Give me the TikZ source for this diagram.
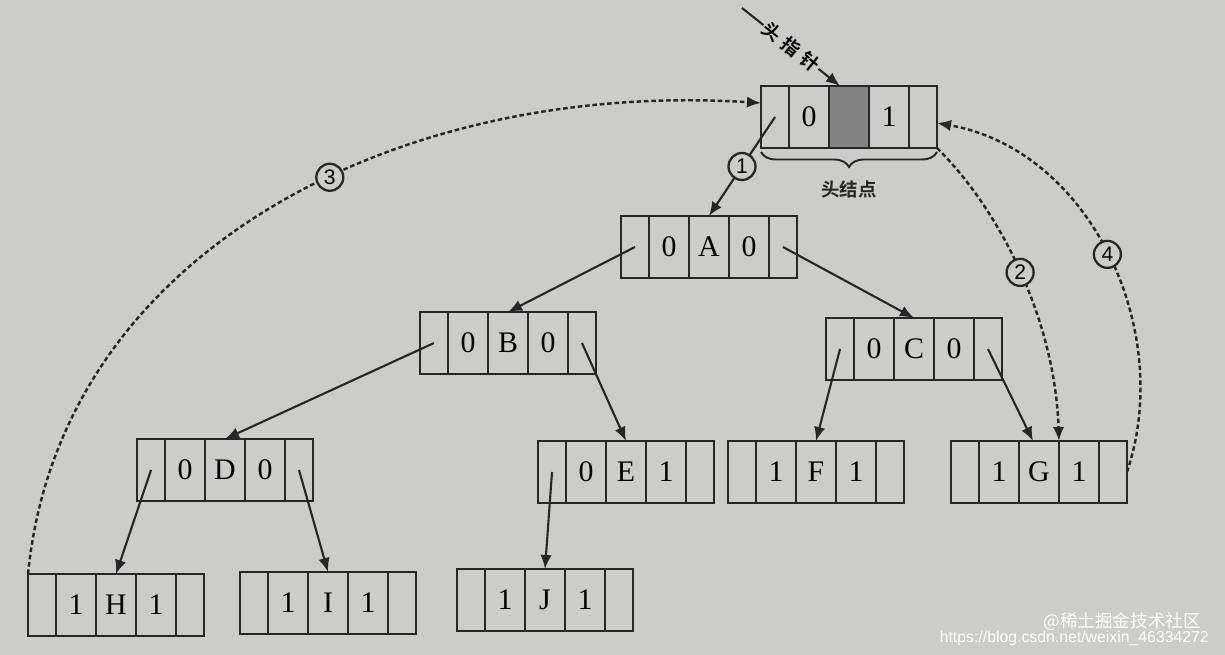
\documentclass[tikz,border=0pt]{standalone}
\usepackage{fontspec}
\setmainfont{Liberation Serif}
\setsansfont{Liberation Sans}
\newfontfamily\cjk{Noto Sans CJK SC}[BoldFont={Noto Sans CJK SC Bold}]
\usepackage{tikz}
\usetikzlibrary{arrows.meta,positioning,decorations.pathreplacing}

\definecolor{paper}{RGB}{204,204,202}
\definecolor{ink}{RGB}{38,38,38}
\definecolor{shade}{RGB}{132,132,132}

% one list node: #1 extra style for the data slot, #2 name, #3 position, #4 ltag, #5 data, #6 rtag
\newcommand{\listnode}[6][]{%
  \node[dataslot,#1] (#2-d) at #3 {#5};
  \node[tagslot,left=0pt of #2-d] (#2-lt) {#4};
  \node[ptrslot,left=0pt of #2-lt] (#2-l) {};
  \node[tagslot,right=0pt of #2-d] (#2-rt) {#6};
  \node[ptrslot,right=0pt of #2-rt] (#2-r) {};
}

\begin{document}
\begin{tikzpicture}[x=0.02cm,y=-0.02cm,
  slot/.style={draw=ink,line width=1.5pt,fill=paper,minimum height=1.24cm,inner sep=0pt,outer sep=0pt,
    font=\fontsize{17}{20}\selectfont},
  ptrslot/.style={slot,minimum width=0.56cm},
  tagslot/.style={slot,minimum width=0.8cm},
  dataslot/.style={tagslot},
  link/.style={draw=ink,line width=1.2pt,-{Latex[length=8pt,width=6.5pt]}},
  thread/.style={draw=ink,line width=1.4pt,dash pattern=on 2.6pt off 1.6pt,-{Latex[length=8pt,width=6.5pt]}},
  numlabel/.style={circle,solid,draw=ink,line width=1.3pt,fill=paper,minimum size=0.54cm,inner sep=0pt,
    font=\sffamily\fontsize{12}{12}\selectfont},
  caption/.style={fill=paper,inner sep=1pt,font=\cjk\bfseries\fontsize{10.5}{12}\selectfont},
  wmark/.style={text=white,anchor=east}]

    \fill[paper] (0,0) rectangle (1225,655);
    \useasboundingbox (0,0) rectangle (1225,655);

    \listnode[fill=shade]{head}{(849,117)}{0}{}{1}
    \listnode{A}{(709,247)}{0}{A}{0}
    \listnode{B}{(508,343)}{0}{B}{0}
    \listnode{C}{(914,349)}{0}{C}{0}
    \listnode{D}{(225,470)}{0}{D}{0}
    \listnode{E}{(626,472)}{0}{E}{1}
    \listnode{F}{(816,472)}{1}{F}{1}
    \listnode{G}{(1039,472)}{1}{G}{1}
    \listnode{H}{(116,605)}{1}{H}{1}
    \listnode{I}{(328,603)}{1}{I}{1}
    \listnode{J}{(545,600)}{1}{J}{1}

    \coordinate (hp) at (742,8);
    \draw[link] (hp) -- node[sloped,caption] (hplbl) {头\hspace{0.3em}指\hspace{0.3em}针} ([xshift=-0.18cm]head-d.north);
    \draw[ink,line width=1.1pt,decorate,decoration={brace,mirror,amplitude=0.3cm}]
        ([yshift=-0.08cm]head-l.south west) -- ([yshift=-0.08cm]head-r.south east)
        node[midway,below=0.52cm,caption] (hnlbl) {头结点};

    \draw[link] (head-l.center) -- node[numlabel] (n1) {1} (A-d.north);
    \draw[link] (A-l.center) -- (B-d.north);
    \draw[link] (A-r.center) -- (C-d.north);
    \draw[link] (B-l.center) -- (D-d.north);
    \draw[link] (B-r.center) -- (E-d.north);
    \draw[link] (C-l.center) -- (F-d.north);
    \draw[link] (C-r.center) -- ([xshift=-0.12cm]G-d.north);
    \draw[link] (D-l.center) -- (H-d.north);
    \draw[link] (D-r.center) -- (I-d.north);
    \draw[link] (E-l.center) -- (J-d.north);

    \draw[thread] (H-l.north west) .. controls (60,250) and (400,80) ..
        node[pos=0.57,numlabel] (n3) {3} ([yshift=0.28cm]head-l.west);
    \draw[thread] (head-r.south east) .. controls (1000,210) and (1055,320) ..
        node[pos=0.5,numlabel] (n2) {2} (G-d.north east);
    \draw[thread] (G-r.east) .. controls (1175,330) and (1090,150) ..
        node[pos=0.5,numlabel] (n4) {4} ([yshift=-0.12cm]head-r.east);

    \node[wmark,font=\cjk\fontsize{10}{12}\selectfont] (wm1) at (1207,622) {@稀土掘金技术社区};
    \node[wmark,font=\sffamily\fontsize{9}{11}\selectfont] (wm2) at (1215,638) {https://blog.csdn.net/weixin\_46334272};
\end{tikzpicture}
\end{document}
